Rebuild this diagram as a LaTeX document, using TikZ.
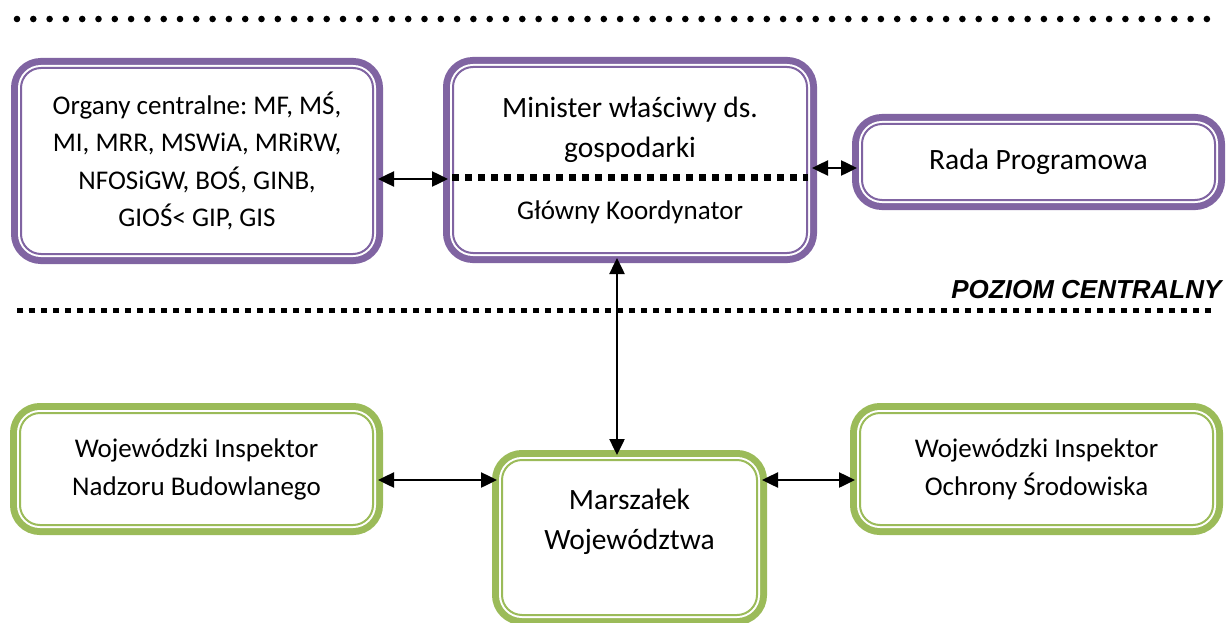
\documentclass[tikz,border=0pt]{standalone}
\usepackage{fontspec}
\setmainfont{Carlito}
\newfontfamily\headfont{Liberation Sans}
\frenchspacing
\usetikzlibrary{arrows.meta}
\definecolor{fiolet}{HTML}{8064A2}
\definecolor{zielen}{HTML}{9BBB59}
\tikzset{
  box/.style={draw=#1, line width=2pt, rounded corners=20pt, fill=white,
    align=center, inner sep=0pt, text=black,
    preaction={draw=#1, line width=20pt},
    preaction={draw=white, line width=6pt}},
  boxtext/.style={font=\fontsize{27}{38}\selectfont},
  bigtext/.style={font=\fontsize{29.5}{40}\selectfont},
  twoway/.style={{Triangle[length=16pt,width=15pt]}-{Triangle[length=16pt,width=15pt]},
    line width=2.5pt, shorten <=4pt, shorten >=4pt},
}
\begin{document}
\begin{tikzpicture}[x=1pt,y=-1pt]
  \useasboundingbox (0,0) rectangle (1231,623);
  % poziom centralny
  \foreach \i in {0,...,73}
    \fill (17+16.3*\i,19) circle (3.3pt);
  \node[box=fiolet, minimum width=352pt, minimum height=186pt,
    font=\fontsize{27}{37.5}\selectfont] (organy) at (197,161)
    {Organy centralne: MF, MŚ,\\MI, MRR, MSWiA, MRiRW,\\NFOSiGW, BOŚ, GINB,\\GIOŚ< GIP, GIS};
  \node[box=fiolet, bigtext, minimum width=354pt, minimum height=186pt] (minister) at (630,160)
    {Minister właściwy ds.\\gospodarki\\[22pt]{\fontsize{27}{30}\selectfont Główny Koordynator}};
  \node[box=fiolet, bigtext, minimum width=353pt, minimum height=76pt] (rada)
    at (1038.5,162) {Rada Programowa};
  \draw[line width=7pt, dash pattern=on 7pt off 6pt]
    ([yshift=-17pt]minister.west) -- ([yshift=-17pt]minister.east);
  \draw[twoway] ([yshift=-18pt]organy.east) -- ([yshift=-18pt]organy.east -| minister.west);
  \draw[twoway] ([yshift=-8pt]minister.east) -- ([yshift=-8pt]minister.east -| rada.west);
  \node[anchor=base east, font=\headfont\bfseries\itshape\fontsize{26}{30}\selectfont]
    (poziom) at (1225,298) {POZIOM CENTRALNY};
  \draw[line width=5pt, dash pattern=on 6pt off 6pt] (17,310) -- (1212,310);
  % poziom wojewodzki
  \node[box=zielen, boxtext, minimum width=353pt, minimum height=112pt] (nadzor)
    at (196.5,469) {Wojewódzki Inspektor\\Nadzoru Budowlanego};
  \node[box=zielen, bigtext, minimum width=255pt, minimum height=155pt,
    text height=59pt, text depth=36pt] (marsz) at (629.5,537.5)
    {Marszałek\\Województwa};
  \node[box=zielen, boxtext, minimum width=353pt, minimum height=112pt] (ochrona)
    at (1036.5,469) {Wojewódzki Inspektor\\Ochrony Środowiska};
  \draw[twoway] ([xshift=-13pt]minister.south) -- ([xshift=-13pt]minister.south |- marsz.north);
  \draw[twoway] ([yshift=-11pt]nadzor.east) -- ([yshift=-11pt]nadzor.east -| marsz.west);
  \draw[twoway] ([yshift=-11pt]ochrona.west) -- ([yshift=-11pt]ochrona.west -| marsz.east);
\end{tikzpicture}
\end{document}
